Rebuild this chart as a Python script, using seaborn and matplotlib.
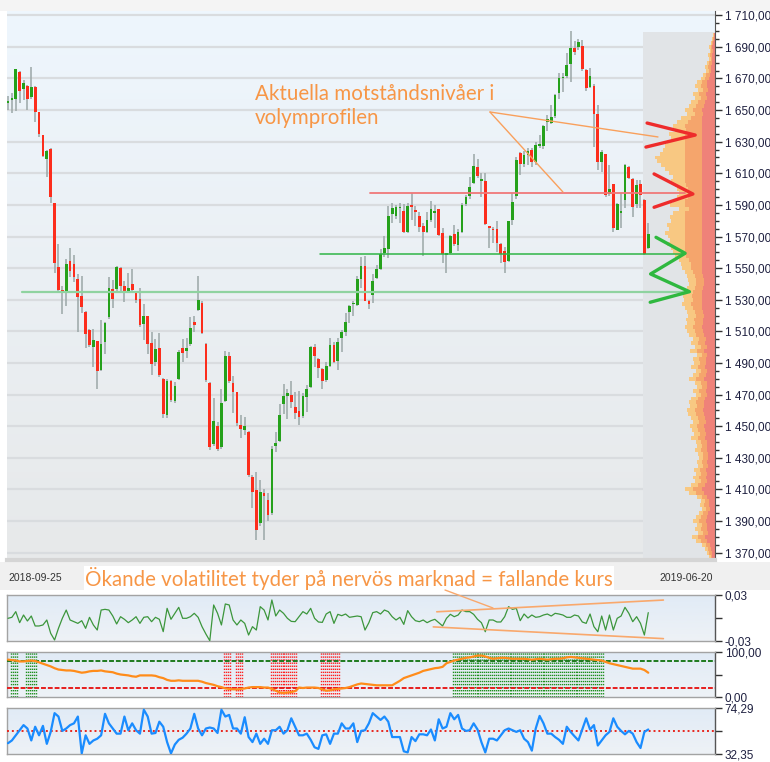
import numpy as np
import pandas as pd
import matplotlib
matplotlib.use("Agg")
import matplotlib.pyplot as plt
import seaborn as sns
from matplotlib.colors import LinearSegmentedColormap
from matplotlib.patches import Rectangle
from matplotlib.lines import Line2D
from matplotlib.ticker import FixedLocator, MultipleLocator, FuncFormatter

sns.set_style("white")
plt.rcParams['font.family'] = ['Liberation Sans', 'DejaVu Sans']

# --- kursdata (OHLC), 2018-09-25 .. 2019-06-20 ---
open_ = [
    1654.5, 1656.4, 1656.8, 1674.3, 1663.1, 1665.2, 1658.5, 1664.8, 1648.6, 1634.0,
    1619.3, 1625.6, 1591.0, 1550.9, 1536.1, 1535.0, 1554.3, 1552.6, 1543.3, 1532.3,
    1522.4, 1510.8, 1499.8, 1503.6, 1485.5, 1503.4, 1519.3, 1536.6, 1537.0, 1550.0,
    1538.7, 1534.9, 1539.9, 1534.9, 1530.6, 1514.6, 1519.7, 1502.4, 1490.6, 1499.4,
    1480.0, 1456.9, 1478.5, 1465.8, 1480.1, 1499.6, 1497.4, 1501.7, 1515.6, 1523.6,
    1528.2, 1502.1, 1477.6, 1438.6, 1449.8, 1436.5, 1466.2, 1494.1, 1477.2, 1471.3,
    1450.6, 1447.7, 1446.4, 1418.1, 1409.7, 1388.6, 1407.6, 1403.4, 1395.3, 1437.5,
    1440.5, 1464.1, 1468.8, 1470.0, 1462.4, 1459.9, 1456.5, 1468.4, 1474.7, 1499.8,
    1492.4, 1486.1, 1479.3, 1488.2, 1501.2, 1491.5, 1505.5, 1509.3, 1522.3, 1527.0,
    1526.5, 1543.3, 1551.3, 1529.4, 1533.2, 1543.7, 1549.6, 1559.7, 1561.8, 1584.0,
    1583.1, 1588.0, 1585.9, 1572.7, 1590.1, 1586.5, 1582.7, 1576.4, 1572.7, 1580.6,
    1585.0, 1587.3, 1572.2, 1558.6, 1559.7, 1571.8, 1564.9, 1572.7, 1590.7, 1595.7,
    1604.1, 1613.8, 1605.2, 1605.4, 1576.4, 1574.3, 1574.8, 1565.0, 1560.9, 1554.5,
    1580.5, 1595.9, 1622.7, 1616.1, 1621.6, 1624.6, 1617.0, 1627.5, 1627.2, 1642.3,
    1641.9, 1646.5, 1660.9, 1670.2, 1671.8, 1679.0, 1689.6, 1689.9, 1690.8, 1675.2,
    1664.9, 1665.5, 1647.4, 1617.0, 1622.0, 1596.7, 1603.1, 1574.4, 1585.0, 1593.1,
    1614.0, 1606.4, 1590.8, 1603.1, 1593.1, 1562.6]
high_ = [
    1659.0, 1660.6, 1676.0, 1675.0, 1669.0, 1666.0, 1677.5, 1665.0, 1649.0, 1634.5,
    1625.0, 1626.0, 1591.5, 1565.2, 1539.0, 1555.5, 1562.5, 1558.3, 1546.3, 1545.0,
    1523.0, 1511.5, 1511.2, 1504.0, 1517.1, 1516.0, 1544.6, 1542.5, 1551.5, 1551.0,
    1541.6, 1547.0, 1549.2, 1535.5, 1537.4, 1527.3, 1520.0, 1509.8, 1504.9, 1508.7,
    1480.5, 1480.0, 1479.0, 1478.0, 1498.3, 1505.0, 1505.9, 1518.8, 1519.4, 1544.7,
    1529.0, 1502.5, 1478.0, 1468.1, 1452.7, 1473.8, 1497.7, 1497.0, 1481.8, 1471.8,
    1456.9, 1456.0, 1447.0, 1419.0, 1420.7, 1416.0, 1410.5, 1408.0, 1437.5, 1446.0,
    1463.9, 1476.6, 1473.4, 1478.7, 1471.7, 1472.3, 1470.9, 1475.9, 1500.8, 1501.9,
    1493.0, 1486.5, 1490.3, 1505.5, 1503.0, 1506.0, 1511.0, 1521.9, 1526.5, 1529.5,
    1545.0, 1557.1, 1557.5, 1530.0, 1546.0, 1552.1, 1561.8, 1570.1, 1589.0, 1591.1,
    1590.0, 1591.1, 1590.7, 1591.5, 1597.4, 1589.0, 1585.2, 1578.5, 1585.2, 1592.2,
    1589.9, 1587.5, 1575.4, 1559.5, 1571.2, 1577.5, 1574.8, 1591.0, 1596.4, 1607.5,
    1622.2, 1618.8, 1610.0, 1610.0, 1576.9, 1576.0, 1579.5, 1566.0, 1563.6, 1580.0,
    1597.4, 1620.6, 1623.5, 1624.2, 1626.3, 1626.3, 1630.0, 1634.3, 1640.6, 1647.0,
    1653.3, 1660.0, 1673.3, 1673.3, 1686.0, 1700.1, 1693.4, 1695.0, 1694.4, 1676.0,
    1676.9, 1666.4, 1653.3, 1624.8, 1622.5, 1615.3, 1603.5, 1591.0, 1597.4, 1616.0,
    1614.5, 1606.8, 1605.8, 1605.8, 1593.5, 1578.6]
low_ = [
    1650.0, 1648.0, 1649.6, 1654.3, 1656.4, 1650.0, 1656.8, 1642.7, 1633.0, 1620.0,
    1607.9, 1591.4, 1546.7, 1535.0, 1521.0, 1526.0, 1544.6, 1541.4, 1509.8, 1521.4,
    1499.2, 1499.8, 1487.6, 1473.3, 1485.0, 1495.6, 1518.0, 1524.5, 1534.0, 1534.0,
    1528.7, 1534.0, 1534.0, 1528.0, 1513.0, 1504.5, 1495.6, 1482.3, 1488.0, 1480.8,
    1455.0, 1455.0, 1465.4, 1464.5, 1479.0, 1490.7, 1493.2, 1500.8, 1509.3, 1523.0,
    1508.2, 1478.0, 1435.0, 1437.5, 1434.5, 1435.8, 1465.5, 1477.0, 1458.6, 1450.2,
    1442.8, 1444.7, 1418.0, 1397.9, 1378.0, 1386.5, 1378.0, 1390.0, 1394.0, 1433.7,
    1440.0, 1457.4, 1454.8, 1461.2, 1454.4, 1450.6, 1455.0, 1459.0, 1474.0, 1487.7,
    1480.6, 1473.8, 1478.0, 1487.5, 1490.0, 1485.8, 1497.1, 1506.8, 1515.2, 1520.0,
    1526.0, 1537.6, 1529.0, 1524.4, 1528.0, 1542.9, 1549.0, 1557.1, 1556.7, 1578.5,
    1581.0, 1578.5, 1572.0, 1572.0, 1580.6, 1576.9, 1572.7, 1557.6, 1572.0, 1579.0,
    1575.4, 1570.1, 1553.4, 1547.1, 1559.0, 1564.0, 1561.1, 1572.0, 1589.0, 1594.0,
    1603.0, 1607.0, 1595.3, 1577.0, 1563.0, 1566.0, 1560.1, 1553.1, 1546.7, 1554.0,
    1577.3, 1594.0, 1609.0, 1614.0, 1615.3, 1614.2, 1615.3, 1625.8, 1625.4, 1636.8,
    1641.4, 1645.0, 1657.1, 1661.7, 1670.6, 1667.6, 1685.0, 1688.0, 1675.0, 1662.1,
    1663.8, 1626.9, 1612.1, 1611.1, 1595.3, 1595.9, 1572.7, 1574.0, 1575.6, 1587.9,
    1606.4, 1582.6, 1587.9, 1587.9, 1558.0, 1562.1]
close_ = [
    1656.0, 1657.6, 1675.8, 1662.3, 1666.9, 1656.8, 1664.8, 1648.6, 1634.9, 1620.9,
    1624.3, 1595.2, 1553.4, 1536.1, 1535.3, 1552.6, 1548.4, 1544.6, 1531.5, 1525.6,
    1508.3, 1501.3, 1504.8, 1485.1, 1502.0, 1515.5, 1537.4, 1530.7, 1550.9, 1538.7,
    1534.4, 1537.4, 1536.1, 1529.8, 1513.8, 1519.7, 1502.0, 1489.3, 1498.6, 1482.1,
    1458.0, 1478.7, 1466.6, 1475.1, 1497.0, 1496.6, 1499.6, 1512.4, 1514.3, 1529.9,
    1508.8, 1478.9, 1436.5, 1453.3, 1435.4, 1464.9, 1494.1, 1478.5, 1471.7, 1452.3,
    1448.1, 1450.2, 1419.0, 1408.4, 1384.4, 1408.4, 1405.9, 1393.6, 1435.4, 1439.6,
    1456.9, 1469.2, 1470.9, 1465.4, 1458.6, 1455.7, 1468.8, 1473.8, 1499.8, 1494.1,
    1486.5, 1478.7, 1488.2, 1501.2, 1490.8, 1503.0, 1509.3, 1515.6, 1526.1, 1527.5,
    1542.9, 1551.3, 1529.0, 1527.3, 1542.0, 1549.6, 1558.8, 1562.8, 1583.1, 1588.2,
    1588.6, 1588.2, 1572.7, 1589.0, 1588.8, 1585.5, 1576.0, 1572.7, 1580.6, 1587.3,
    1585.0, 1571.2, 1559.2, 1558.6, 1570.6, 1565.5, 1572.7, 1590.1, 1594.9, 1601.6,
    1614.6, 1608.3, 1605.2, 1577.7, 1575.6, 1574.0, 1565.9, 1558.8, 1553.7, 1579.8,
    1592.1, 1618.5, 1615.7, 1621.6, 1624.2, 1617.4, 1628.0, 1628.3, 1639.8, 1644.3,
    1645.7, 1659.6, 1670.6, 1671.2, 1678.6, 1689.6, 1686.6, 1692.9, 1676.0, 1663.8,
    1671.8, 1647.4, 1617.4, 1623.3, 1596.3, 1600.1, 1575.6, 1590.4, 1585.0, 1615.3,
    1606.9, 1588.9, 1602.6, 1596.3, 1558.8, 1571.4]

# volymprofil, bredd per prisnivå (1697.5 ned till 1367.5, steg 2.5)
vp_width = [
    2, 3, 4, 6, 5, 7, 6, 8, 10, 9,
    12, 14, 18, 20, 17, 22, 20, 24, 26, 30,
    28, 34, 38, 42, 40, 46, 44, 48, 50, 52,
    55, 60, 58, 54, 50, 46, 42, 44, 40, 38,
    36, 38, 42, 45, 36, 42, 45, 44, 48, 46,
    50, 47, 45, 48, 44, 42, 40, 36, 34, 33,
    30, 28, 27, 26, 28, 30, 32, 31, 33, 30,
    28, 27, 29, 28, 30, 28,
    26, 22, 24, 20, 25, 18, 22, 21, 24, 19,
    22, 26, 20, 18, 22, 19, 24, 26, 25, 28,
    27, 24, 22, 25, 23, 21, 24, 19, 18, 20,
    17, 16, 18, 17, 21, 19, 22, 20, 24, 30,
    26, 18, 14, 15, 13, 16, 19, 22, 18, 20,
    17, 23, 19, 13, 10, 8, 6]

# volatilitet (övre delpanel)
volat = [
    -0.0004, 0.0009, 0.0083, -0.0061, 0.0039, -0.0039, 0.0026, -0.0104, -0.0104, -0.0091,
    -0.0026, -0.0200, -0.0287, -0.0135, -0.0004, 0.0104, -0.0026, -0.0048, -0.0070, -0.0035,
    -0.0135, 0.0009, -0.0091, -0.0157, 0.0104, 0.0113, 0.0104, 0.0026, -0.0078, 0.0017,
    -0.0017, -0.0061, -0.0026, 0.0017, -0.0070, 0.0009, 0.0017, -0.0048, 0.0009, -0.0017,
    -0.0178, 0.0126, -0.0017, 0.0061, 0.0139, -0.0004, -0.0004, 0.0017, 0.0061, 0.0009,
    -0.0113, -0.0209, -0.0296, 0.0170, 0.0061, -0.0091, 0.0183, 0.0170, -0.0026, -0.0091,
    -0.0026, -0.0070, -0.0222, -0.0113, -0.0157, 0.0148, 0.0104, -0.0026, 0.0235, 0.0026,
    0.0104, 0.0061, -0.0004, -0.0044, -0.0048, 0.0017, 0.0083, 0.0052, 0.0126, -0.0004,
    -0.0052, -0.0057, 0.0052, 0.0083, -0.0070, 0.0048, 0.0030, 0.0052, 0.0009, 0.0017,
    0.0026, 0.0017, -0.0157, -0.0061, 0.0070, 0.0083, 0.0052, 0.0104, 0.0083, 0.0017,
    -0.0026, 0.0009, -0.0083, 0.0096, 0.0017, -0.0035, -0.0048, -0.0026, -0.0061, -0.0035,
    -0.0017, -0.0061, -0.0104, -0.0004, 0.0048, 0.0017, 0.0039, 0.0104, 0.0083, 0.0083,
    0.0048, -0.0017, -0.0061, -0.0179, -0.0026, -0.0026, -0.0052, -0.0052, 0.0017, 0.0148,
    0.0113, 0.0126, -0.0035, 0.0052, 0.0000, 0.0039, 0.0009, 0.0017, 0.0039, 0.0052,
    0.0026, 0.0061, 0.0052, 0.0039, 0.0009, 0.0009, 0.0039, 0.0026, -0.0052, -0.0070,
    0.0052, -0.0113, -0.0179, 0.0026, -0.0157, 0.0039, -0.0157, -0.0004, 0.0026, 0.0139,
    0.0061, -0.0048, 0.0017, -0.0070, -0.0222, 0.0070]

# oscillator 0-100 (mellersta delpanel)
osc = [
    83, 82, 81, 79, 79, 80, 81, 80, 77, 74,
    71, 68, 64, 61, 60, 59, 59, 58, 56, 54,
    55, 57, 58, 58, 59, 57, 56, 55, 52, 50,
    49, 48, 46, 45, 48, 48, 48, 48, 47, 44,
    42, 38, 36, 36, 37, 36, 36, 36, 36, 36,
    34, 31, 29, 27, 24, 22, 19, 18, 17, 17,
    18, 19, 21, 22, 22, 22, 21, 21, 18, 14,
    10, 9, 10, 11, 13, 21, 20, 21, 21, 21,
    20, 17, 14, 15, 17, 18, 19, 20, 22, 25,
    28, 30, 29, 28, 27, 26, 26, 26, 26, 26,
    31, 36, 42, 45, 48, 51, 54, 58, 60, 62,
    64, 65, 67, 75, 78, 81, 83, 85, 87, 88,
    90, 92, 92, 90, 87, 85, 86, 87, 87, 86,
    85, 85, 85, 85, 84, 83, 84, 85, 84, 83,
    84, 85, 85, 86, 88, 89, 88, 87, 86, 85,
    84, 83, 82, 81, 78, 75, 73, 71, 69, 67,
    65, 63, 63, 63, 60, 54]
green_marks = [1, 2, 5, 6, 7] + list(range(115, 154))
red_marks = [56, 57, 59, 60] + list(range(68, 75)) + list(range(81, 86))

# nedre delpanel
rsi = [
    42.2, 44.7, 49.4, 54.0, 58.7, 55.6, 44.7, 57.2, 49.4, 58.0,
    41.6, 52.5, 69.6, 66.5, 53.4, 55.6, 58.7, 60.3, 66.5, 32.9,
    49.4, 41.6, 44.7, 46.3, 49.4, 69.0, 60.3, 55.6, 50.9, 50.9,
    66.5, 54.0, 60.3, 54.0, 50.9, 72.7, 66.5, 50.9, 51.5, 61.8,
    57.2, 43.2, 32.9, 41.0, 45.3, 47.2, 50.9, 55.6, 69.0, 55.6,
    49.4, 55.6, 56.5, 55.6, 51.5, 72.7, 66.5, 68.0, 55.6, 55.6,
    50.9, 65.9, 47.8, 43.2, 50.9, 41.6, 46.3, 41.6, 54.0, 54.0,
    57.2, 50.9, 54.0, 64.9, 57.2, 49.4, 49.4, 50.9, 45.3, 38.5,
    37.0, 49.4, 50.3, 41.6, 50.9, 50.9, 60.3, 55.6, 55.6, 60.3,
    43.2, 53.4, 54.0, 60.3, 69.6, 66.5, 63.4, 66.5, 61.8, 47.8,
    47.8, 47.8, 34.8, 33.8, 47.8, 44.1, 50.3, 50.3, 49.4, 54.7,
    44.7, 64.0, 55.6, 57.2, 69.6, 64.0, 68.0, 55.6, 53.4, 54.0,
    60.3, 54.7, 43.2, 33.8, 46.3, 46.3, 44.7, 49.4, 54.0, 55.6,
    54.0, 52.5, 54.0, 46.3, 43.2, 35.4, 55.6, 67.1, 60.3, 50.9,
    50.9, 47.8, 45.3, 41.6, 57.2, 52.5, 48.5, 44.7, 54.7, 64.9,
    54.7, 58.7, 40.1, 44.7, 49.4, 52.5, 64.9, 57.2, 53.4, 50.3,
    53.4, 50.9, 43.2, 37.8, 52.5, 54.7]

W, H = 770, 762
fig = plt.figure(figsize=(W / 100, H / 100), dpi=100, facecolor='white')


def px_axes(x0, y0, x1, y1):
    return fig.add_axes([x0 / W, 1 - y1 / H, (x1 - x0) / W, (y1 - y0) / H])


def gradient_bg(a, top, bottom, xlim, ylim):
    cmap = LinearSegmentedColormap.from_list('bg', [bottom, top])
    a.imshow(np.linspace(0, 1, 100).reshape(-1, 1), cmap=cmap, aspect='auto',
             extent=[xlim[0], xlim[1], ylim[0], ylim[1]], origin='lower', zorder=0)


n = len(open_)
idx = np.arange(n)
XL = (-0.26, 182.2)
PX = 3.88  # pixlar per stapel
ORANGE = '#f79646'
price_fmt = FuncFormatter(lambda v, p: f"{int(round(v)):,}".replace(',', ' ') + ',00')

# bakgrundsremsor
fig.add_artist(Rectangle((0, 1 - 11 / H), 1, 11 / H, transform=fig.transFigure,
                         facecolor='#f4f4f4', edgecolor='none', zorder=-1))
fig.add_artist(Rectangle((0, 1 - 590 / H), 1, 28 / H, transform=fig.transFigure,
                         facecolor='#f0f0f0', edgecolor='none', zorder=-1))

# --- huvudgraf ---
ax = px_axes(7, 11, 715, 560)
YL = (1365.3, 1712.7)
gradient_bg(ax, '#eef6fd', '#e7e9ea', XL, YL)
for p in range(1370, 1711, 20):
    ax.axhline(p, color='#d9dcdf', lw=1.6, zorder=1)
ax.add_patch(Rectangle((163.7, YL[0]), XL[1] - 163.7, 1699.2 - YL[0],
                       facecolor='#e1e4e7', edgecolor='none', zorder=1.5))

# volymprofil: gul ytterst, orange i mitten, laxröd närmast axeln
vp_levels = np.arange(1697.5, 1366, -2.5)
w = np.array(vp_width) / PX
layers = [(w, '#f8c882'),
          (np.minimum(w * 0.72, 30 / PX), '#f5a56c'),
          (np.minimum(w * 0.42, 13 / PX), '#ef8279')]
for ww, col in layers:
    ax.barh(vp_levels, ww, left=XL[1] - ww, height=2.5, color=col, linewidth=0, zorder=2)

# candlesticks
df = pd.DataFrame({'o': open_, 'h': high_, 'l': low_, 'c': close_})
up = (df.c >= df.o).values
ax.vlines(idx, df.l, df.h, color='#9ba7a7', lw=1.1, zorder=3)
body = np.maximum((df.c - df.o).abs(), 0.9)
ax.bar(idx, body, bottom=np.minimum(df.o, df.c), width=0.7,
       color=np.where(up, '#25a11b', '#fc2d1c'), linewidth=0, zorder=4)

# stöd/motstånd
ax.plot([3.6, 175.8], [1535.1, 1535.1], color='#8fd3a0', lw=1.6, zorder=5)
ax.plot([80.4, 174.5], [1558.7, 1558.7], color='#2fb446', lw=1.1, zorder=5)
ax.plot([93.3, 174.5], [1597.3, 1597.3], color='#f07878', lw=1.3, zorder=5)

# markeringar i volymprofilen
kw = dict(lw=2.4, zorder=6, solid_capstyle='round', solid_joinstyle='round')
ax.plot([164.7, 177.1, 164.4], [1641.8, 1634.2, 1626.6], color='#ee2b2b', **kw)
ax.plot([166.5, 176.5, 166.5], [1609.6, 1596.9, 1588.5], color='#ee2b2b', **kw)
ax.plot([167.0, 174.5, 165.6, 175.6, 165.5], [1569.5, 1559.4, 1546.3, 1535.1, 1528.4],
        color='#2fb83f', **kw)
ax.plot([124.2, 167.5], [1648.8, 1633.0], color='#f9a05c', lw=1.0, zorder=6)
ax.plot([124.2, 143.0], [1648.8, 1598.2], color='#f9a05c', lw=1.0, zorder=6)

ax.set_xlim(XL)
ax.set_ylim(YL)
ax.set_xticks([])
ax.yaxis.tick_right()
ax.yaxis.set_major_locator(FixedLocator(range(1370, 1711, 20)))
ax.yaxis.set_minor_locator(MultipleLocator(5))
ax.yaxis.set_major_formatter(price_fmt)
ax.tick_params(axis='y', which='major', length=5, width=1, color='#333333',
               labelsize=8.5, labelcolor='#1e2040', pad=2)
ax.tick_params(axis='y', which='minor', length=3, width=1, color='#333333')
for s in ['left', 'top']:
    ax.spines[s].set_visible(False)
ax.spines['right'].set_color('#555555')
ax.spines['bottom'].set_color('#d5d5d5')
ax.spines['bottom'].set_linewidth(3)


# --- delpaneler ---
def sub_panel(y0, y1, ylim, ticks, labels):
    a = px_axes(7, y0, 715, y1)
    gradient_bg(a, '#e1ebf6', '#eef2f6', XL, ylim)
    a.set_xticks([])
    a.yaxis.tick_right()
    a.set_yticks(ticks)
    a.set_yticklabels(labels)
    a.tick_params(axis='y', length=5, width=1, color='#333333', labelsize=8.5,
                  labelcolor='#1e2040', pad=2)
    for s in a.spines.values():
        s.set_color('#a3a3a3')
        s.set_linewidth(1)
    a.spines['right'].set_color('#555555')
    return a


p1 = sub_panel(595, 641, (-0.03, 0.03), [-0.03, 0, 0.03], ['-0,03', '', '0,03'])
sns.lineplot(x=idx, y=volat, color='#3c963c', lw=0.9, ax=p1, zorder=3)
p1.plot([110.5, 168.9], [0.0081, 0.0234], color='#f9a86c', lw=1.2, zorder=4)
p1.plot([109.6, 168.9], [-0.0116, -0.0269], color='#f9a86c', lw=1.2, zorder=4)
p1.set_ylim(-0.03, 0.03)

p2 = sub_panel(652, 697, (0, 100), [0, 50, 100], ['0,00', '', '100,00'])
for i in green_marks:
    p2.vlines([i - 0.25, i + 0.25], 0, 100, colors='#1f8f1f', linestyles=(0, (1, 1.2)),
              lw=1.0, zorder=2)
for i in red_marks:
    p2.vlines([i - 0.25, i + 0.25], 0, 100, colors='#ff2020', linestyles=(0, (1, 1.2)),
              lw=1.0, zorder=2)
p2.axhline(80, color='#1e7a1e', ls=(0, (2.5, 1)), lw=1.4, zorder=3)
p2.axhline(20, color='#e61e1e', ls=(0, (2.5, 1)), lw=1.4, zorder=3)
sns.lineplot(x=idx, y=osc, color='#ff8c1a', lw=1.6, ax=p2, zorder=4)
p2.set_ylim(0, 100)

p3 = sub_panel(708, 754, (32.35, 74.29), [32.35, 53.32, 74.29], ['32,35', '', '74,29'])
p3.axhline(53.32, color='#e8261e', ls=(0, (1, 1.5)), lw=1.4, zorder=3)
sns.lineplot(x=idx, y=rsi, color='#1a8cff', lw=1.6, ax=p3, zorder=4)
p3.set_ylim(32.35, 74.29)

for a in (p1, p2, p3):
    a.set_xlim(XL)
    a.set_xlabel('')
    a.set_ylabel('')

# --- texter ---
fig.text(255 / W, 1 - 84 / H, 'Aktuella motståndsnivåer i\nvolymprofilen', color=ORANGE,
         fontsize=14.8, family=['Lato', 'DejaVu Sans'], va='top', ha='left', linespacing=1.25)
fig.text(85 / W, 1 - 579 / H, 'Ökande volatilitet tyder på nervös marknad = fallande kurs',
         color=ORANGE, fontsize=14.8, family=['Lato', 'DejaVu Sans'], va='center', ha='left',
         bbox=dict(facecolor='white', edgecolor='none', pad=1.0))
fig.text(8 / W, 1 - 578 / H, '2018-09-25', fontsize=7.5, color='#333333', va='center')
fig.text(713 / W, 1 - 578 / H, '2019-06-20', fontsize=7.5, color='#333333', va='center', ha='right')
fig.add_artist(Line2D([445 / W, 493 / W], [1 - 590 / H, 1 - 608 / H], color='#f9a86c', lw=1, zorder=10))

fig.savefig('out.png', dpi=100, facecolor=fig.get_facecolor())
